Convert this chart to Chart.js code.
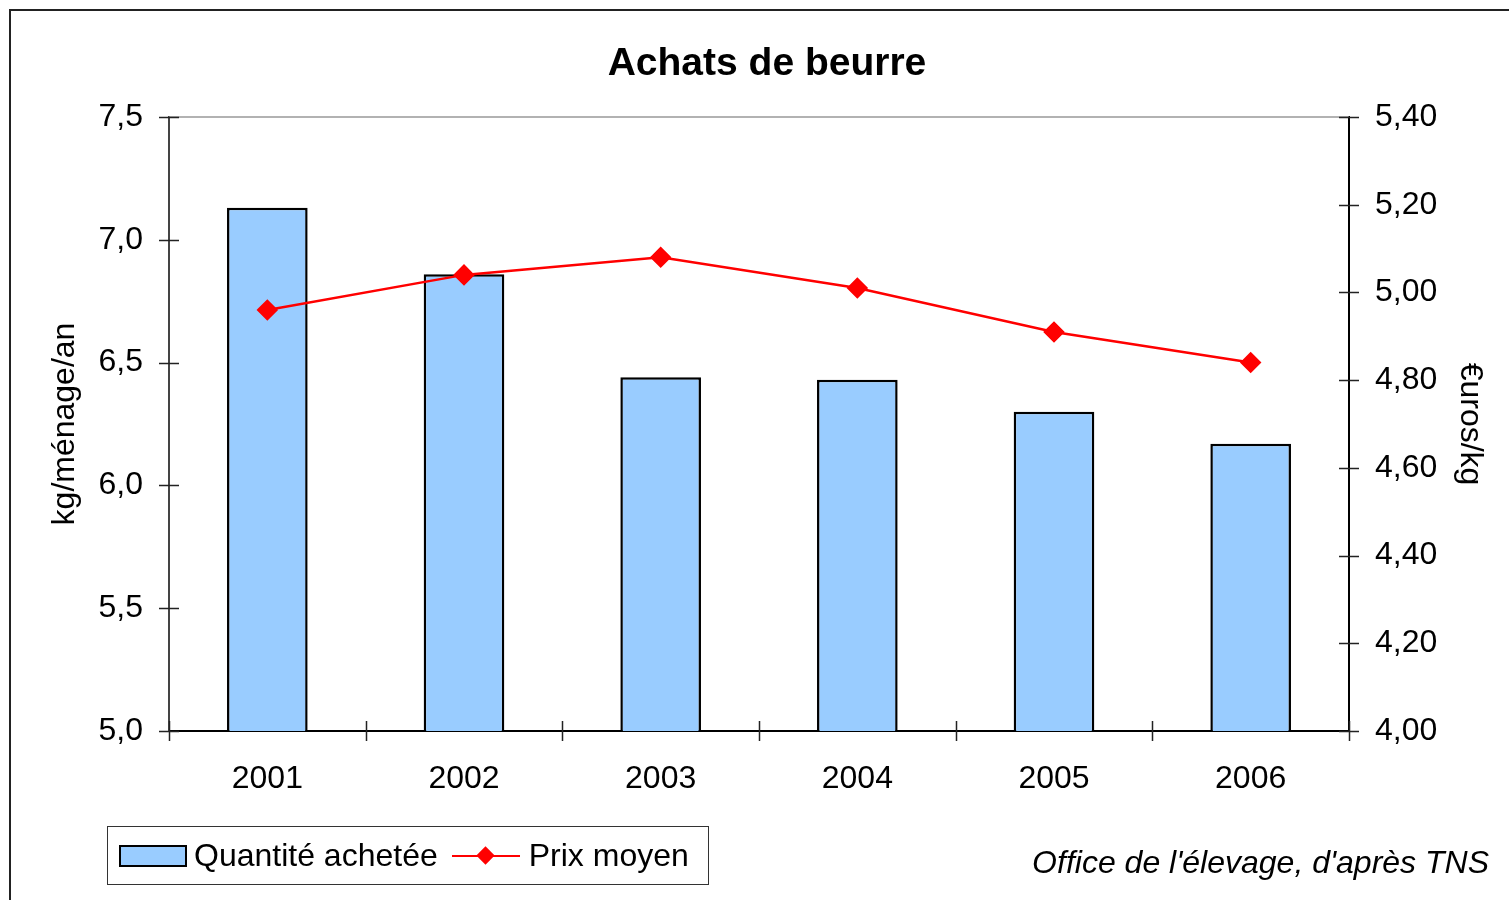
<!DOCTYPE html>
<html lang="fr">
<head>
<meta charset="utf-8">
<title>Achats de beurre</title>
<script src="https://cdn.jsdelivr.net/npm/chart.js@4"></script>
<style>
    body { margin: 0; background: #fff; font-family: "Liberation Sans", Arial, sans-serif; }
    #wrap { position: relative; width: 1509px; height: 900px; overflow: hidden; }
    #frame { position: absolute; left: 9px; top: 9px; width: 1600px; height: 1000px;
             border-left: 2px solid #222; border-top: 2px solid #222; }
    #chart { position: absolute; left: 0; top: 0; }
    #title { position: absolute; left: 767px; top: 42px; transform: translateX(-50%);
             font-weight: bold; font-size: 39px; line-height: 40px; white-space: nowrap; }
    #legend { position: absolute; left: 107px; top: 826px; width: 600px; height: 57px;
              border: 1px solid #333; display: flex; align-items: center; font-size: 32px; }
    .item { display: flex; align-items: center; margin-left: 11px; }
    .item + .item { margin-left: 14px; }
    .swatch { width: 64px; height: 18px; border: 2px solid #000; margin-right: 7px; }
    .lineKey { position: relative; width: 68px; height: 20px; margin-right: 9px; }
    .lineKey:before { content: ""; position: absolute; left: 0; right: 0; top: 9px; height: 2px; background: #ff0000; }
    .lineKey:after { content: ""; position: absolute; left: 27px; top: 3px; width: 13px; height: 13px;
                     background: #ff0000; transform: rotate(45deg); }
    #source { position: absolute; right: 20px; top: 844px; font-style: italic; font-size: 32px;
              line-height: 36px; white-space: nowrap; }
</style>
</head>
<body>
<div id="wrap">
    <div id="frame"></div>
    <canvas id="chart" width="1509" height="900"></canvas>
    <div id="title">Achats de beurre</div>
    <div id="legend"></div>
    <div id="source">Office de l'élevage, d'après TNS</div>
</div>
<script>
// ===============================
//  DATA
// ===============================
const years = ['2001', '2002', '2003', '2004', '2005', '2006'];
const quantite = [7.13, 6.86, 6.44, 6.43, 6.30, 6.17];   // kg/ménage/an
const prixMoyen = [4.96, 5.04, 5.08, 5.01, 4.91, 4.84];  // euros/kg

const FONT = '"Liberation Sans", Arial, sans-serif';

// crossing tick marks + grey top border of the plot area
const axisMarks = {
    id: 'axisMarks',
    afterDraw(chart) {
        const ctx = chart.ctx;
        const area = chart.chartArea;
        const x = chart.scales.x, yq = chart.scales.yq, yp = chart.scales.yp;
        ctx.save();
        ctx.lineWidth = 1.5;

        ctx.strokeStyle = '#999';
        ctx.beginPath();
        ctx.moveTo(area.left, area.top);
        ctx.lineTo(area.right, area.top);
        ctx.stroke();

        ctx.strokeStyle = '#222';
        ctx.beginPath();
        yq.ticks.forEach((t, i) => {
            const py = Math.round(yq.getPixelForTick(i)) + 0.5;
            ctx.moveTo(area.left - 10, py);
            ctx.lineTo(area.left + 10, py);
        });
        yp.ticks.forEach((t, i) => {
            const py = Math.round(yp.getPixelForTick(i)) + 0.5;
            ctx.moveTo(area.right - 10, py);
            ctx.lineTo(area.right + 10, py);
        });
        for (let i = 0; i <= years.length; i++) {
            const px = Math.round(x.getPixelForValue(i - 0.5)) + 0.5;
            ctx.moveTo(px, area.bottom - 10);
            ctx.lineTo(px, area.bottom + 10);
        }
        ctx.stroke();
        ctx.restore();
    }
};

const chart = new Chart(document.getElementById('chart'), {
    data: {
        labels: years,
        datasets: [
            {
                type: 'bar',
                label: 'Quantité achetée',
                data: quantite,
                yAxisID: 'yq',
                backgroundColor: '#99ccff',
                borderColor: '#000',
                borderWidth: 2.5,
                barPercentage: 0.41,
                categoryPercentage: 1,
                order: 2
            },
            {
                type: 'line',
                label: 'Prix moyen',
                data: prixMoyen,
                yAxisID: 'yp',
                borderColor: '#ff0000',
                backgroundColor: '#ff0000',
                borderWidth: 2.5,
                pointStyle: 'rectRot',
                pointRadius: 9,
                pointHoverRadius: 9,
                tension: 0,
                order: 1
            }
        ]
    },
    options: {
        responsive: false,
        animation: false,
        devicePixelRatio: 1,
        layout: { padding: { top: 117, bottom: 89, left: 0, right: 0 } },
        plugins: {
            legend: { display: false },
            title: { display: false },
            tooltip: { enabled: false }
        },
        scales: {
            x: {
                afterFit: (s) => { s.height = 80; },
                grid: { display: false, drawTicks: false, offset: true },
                border: { display: true, color: '#000', width: 2 },
                ticks: { color: '#000', padding: 29, font: { family: FONT, size: 32 } }
            },
            yq: {
                position: 'left',
                min: 5, max: 7.5,
                afterFit: (s) => { s.width = 169; },
                grid: { display: false, drawTicks: false },
                border: { display: true, color: '#444', width: 2 },
                ticks: {
                    stepSize: 0.5, color: '#000', padding: 26,
                    font: { family: FONT, size: 32 },
                    callback: (v) => v.toFixed(1).replace('.', ',')
                },
                title: {
                    display: true, text: 'kg/ménage/an', color: '#000',
                    font: { family: FONT, size: 32 }, padding: { top: 46, bottom: 0 }
                }
            },
            yp: {
                position: 'right',
                min: 4, max: 5.4,
                afterFit: (s) => { s.width = 160; },
                grid: { display: false, drawTicks: false },
                border: { display: true, color: '#000', width: 2 },
                ticks: {
                    stepSize: 0.2, color: '#000', padding: 26,
                    font: { family: FONT, size: 32 },
                    callback: (v) => v.toFixed(2).replace('.', ',')
                },
                title: {
                    display: true, text: '€uros/kg', color: '#000',
                    font: { family: FONT, size: 32 }, padding: { top: 20, bottom: 0 }
                }
            }
        }
    },
    plugins: [axisMarks]
});

// ===============================
//  HTML LEGEND
// ===============================
const legendEl = document.getElementById('legend');
chart.data.datasets.forEach((ds) => {
    const item = document.createElement('div');
    item.className = 'item';
    const key = document.createElement('span');
    if (ds.type === 'bar') {
        key.className = 'swatch';
        key.style.background = ds.backgroundColor;
    } else {
        key.className = 'lineKey';
    }
    const txt = document.createElement('span');
    txt.textContent = ds.label;
    item.appendChild(key);
    item.appendChild(txt);
    legendEl.appendChild(item);
});
</script>
</body>
</html>
